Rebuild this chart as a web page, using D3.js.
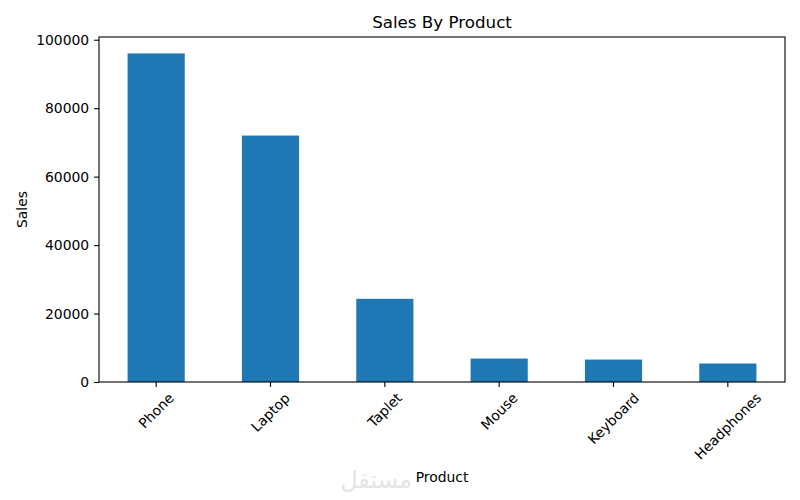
<!DOCTYPE html>
<html>
<head>
<meta charset="utf-8">
<script src="https://cdn.jsdelivr.net/npm/d3@7"></script>
<style>
    body { margin: 0; background: #fff; }
    text { font-family: "DejaVu Sans", sans-serif; fill: #000; }
</style>
</head>
<body>
<svg id="chart" width="800" height="500"></svg>
<script>
// Sales by product
var products = ['Phone', 'Laptop', 'Taplet', 'Mouse', 'Keyboard', 'Headphones'];
var sales = [96000, 72000, 24300, 6850, 6550, 5400];
var yTicks = [0, 20000, 40000, 60000, 80000, 100000];

var margin = {top: 37, right: 15, bottom: 118, left: 99},
    width = 800 - margin.left - margin.right,
    height = 500 - margin.top - margin.bottom;

var svg = d3.select('#chart');
var scene = svg.append('g')
    .attr('transform', 'translate(' + margin.left + ',' + margin.top + ')');

var data = products.map(function (p, i) { return {product: p, value: sales[i]}; });

// matplotlib style: xlim -0.5..n-0.5, bar width 0.5
var x = d3.scaleBand()
    .domain(products)
    .range([0, width])
    .paddingInner(0.5)
    .paddingOuter(0.25);

// top = 1.05 * max like matplotlib autoscale margin
var y = d3.scaleLinear()
    .domain([0, d3.max(sales) * 1.05])
    .range([height, 0]);

scene.selectAll('.bar')
    .data(data)
    .enter().append('rect')
        .attr('class', 'bar')
        .attr('x', function (d) { return x(d.product); })
        .attr('width', x.bandwidth())
        .attr('y', function (d) { return y(d.value); })
        .attr('height', function (d) { return height - y(d.value); })
        .style('fill', '#1f77b4');

// Y axis
var yAxis = scene.append('g')
    .attr('class', 'axis axis--y')
    .call(d3.axisLeft(y).tickValues(yTicks).tickSize(4.9).tickPadding(4.9).tickFormat(d3.format('d')));
yAxis.select('.domain').remove();
yAxis.selectAll('text').style('font-size', '13.9px').style('font-family', '"DejaVu Sans", sans-serif');
yAxis.selectAll('line').attr('stroke', '#000').attr('stroke-width', 1.1);

// X axis
var xAxis = scene.append('g')
    .attr('class', 'axis axis--x')
    .attr('transform', 'translate(0,' + height + ')')
    .call(d3.axisBottom(x).tickSize(4.9).tickPadding(0));
xAxis.select('.domain').remove();
xAxis.selectAll('line').attr('stroke', '#000').attr('stroke-width', 1.1);

// rotated labels, centred on the tick like pandas rot=45
xAxis.selectAll('.tick text')
    .style('font-size', '13.9px')
    .style('font-family', '"DejaVu Sans", sans-serif')
    .attr('text-anchor', 'middle')
    .attr('dy', '0.35em')
    .attr('transform', function () {
        var w = this.getComputedTextLength(),
            h = 13.9 * 0.75,
            bh = (w + h) * Math.SQRT1_2;
        return 'translate(0,' + (4.9 + 4.9 + bh / 2) + ') rotate(-45)';
    })
    .attr('y', 0);

// frame
scene.append('rect')
    .attr('width', width)
    .attr('height', height)
    .style('fill', 'none')
    .style('stroke', '#000')
    .style('stroke-width', 1.1);

// titles
svg.append('text')
    .attr('x', margin.left + width / 2)
    .attr('y', 28)
    .attr('text-anchor', 'middle')
    .style('font-size', '16.7px')
    .text('Sales By Product');

svg.append('text')
    .attr('x', margin.left + width / 2)
    .attr('y', 482)
    .attr('text-anchor', 'middle')
    .style('font-size', '13.9px')
    .text('Product');

svg.append('text')
    .attr('transform', 'translate(27,' + (margin.top + height / 2) + ') rotate(-90)')
    .attr('text-anchor', 'middle')
    .style('font-size', '13.9px')
    .text('Sales');

// faint watermark
svg.insert('text', ':first-child')
    .attr('x', 412)
    .attr('y', 488)
    .attr('text-anchor', 'end')
    .style('font-size', '24px')
    .style('fill', '#e4e4e4')
    .text('مستقل');
</script>
</body>
</html>
